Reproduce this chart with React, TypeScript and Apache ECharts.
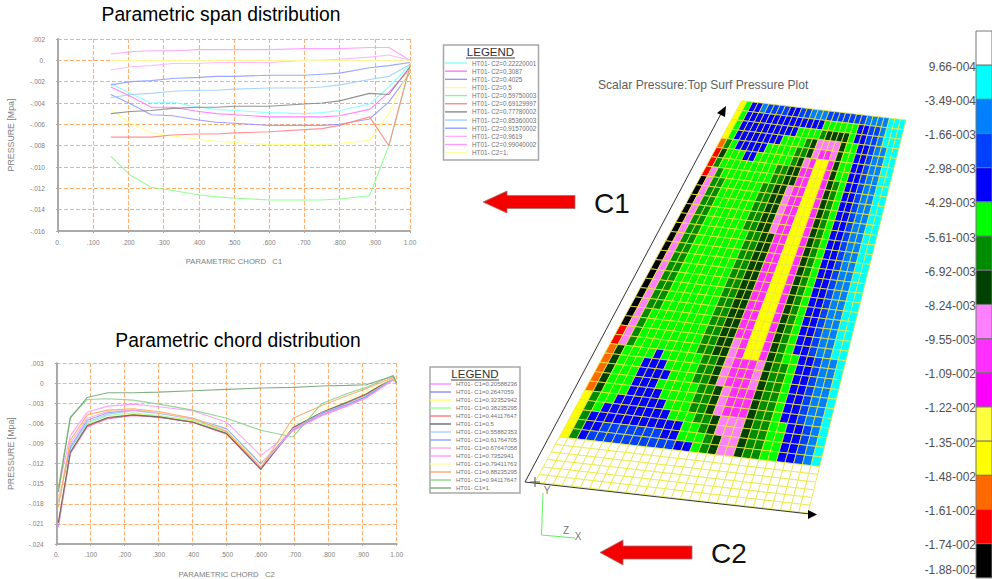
import React, { useEffect, useRef } from "react";
import * as echarts from "echarts";

const FONT = "'Liberation Sans', Arial, sans-serif";

const spanX = [0.15, 0.207, 0.265, 0.325, 0.4, 0.45, 0.5, 0.6, 0.7, 0.75, 0.8, 0.885, 0.94, 1.0];
const spanNames = ["HT01- C2=0.22220001", "HT01- C2=0.3087", "HT01- C2=0.4025", "HT01- C2=0.5", "HT01- C2=0.59750003", "HT01- C2=0.69129997", "HT01- C2=0.77780002", "HT01- C2=0.85360003", "HT01- C2=0.91570002", "HT01- C2=0.9619", "HT01- C2=0.99040002", "HT01- C2=1."];
const spanColors = ["#80ffff", "#ff70ff", "#9090ff", "#ffff80", "#80ff80", "#ff8080", "#808080", "#99ccff", "#8899ff", "#ffb0ff", "#ff99ff", "#ffffa0"];
const span1 = [-.0022, -.0031, -.0040, -.0039, -.0044, -.0046, -.0047, -.0049, -.0050, -.0049, -.0047, -.0041, -.0025, -.0004];
const span2 = [-.0025, -.0034, -.0044, -.0044, -.0048, -.0050, -.0051, -.0053, -.0053, -.0053, -.0052, -.0046, -.0030, -.0008];
const span3 = [-.0032, -.0041, -.0051, -.0052, -.0056, -.0058, -.0059, -.0061, -.0061, -.0061, -.0060, -.0055, -.0039, -.0012];
const span4 = [-.0046, -.0059, -.0068, -.0071, -.0074, -.0076, -.0077, -.0079, -.0079, -.0079, -.0078, -.0075, -.0050, -.0007];
const span5 = [-.0090, -.0108, -.0119, -.0122, -.0126, -.0128, -.0129, -.0131, -.0131, -.0131, -.0130, -.0127, -.0080, -.0007];
const span6 = [-.0072, -.0072, -.0072, -.0070, -.0069, -.0069, -.0068, -.0067, -.0065, -.0064, -.0061, -.0053, -.0080, -.0005];
const span7 = [-.0050, -.0048, -.0047, -.0045, -.0044, -.0044, -.0043, -.0043, -.0041, -.0040, -.0038, -.0031, -.0032, -.0006];
const span8 = [-.0035, -.0032, -.0031, -.0029, -.0028, -.0028, -.0027, -.0026, -.0026, -.0025, -.0023, -.0018, -.0015, -.0004];
const span9 = [-.0023, -.0020, -.0019, -.0017, -.0016, -.0015, -.0015, -.0014, -.0014, -.0013, -.0012, -.0007, -.0005, -.0002];
const span10 = [-.0009, -.0006, -.0005, -.0003, -.0003, -.0002, -.0002, -.0002, 0, 0, .0001, .0003, .0005, 0];
const span11 = [.0006, .0008, .0009, .0009, .0010, .0010, .0010, .0010, .0011, .0011, .0011, .0012, .0012, 0];
const span12 = [0, 0, 0, 0, 0, 0, 0, 0, 0, 0, 0, 0, 0, 0];
const spanValues = [span1, span2, span3, span4, span5, span6, span7, span8, span9, span10, span11, span12];

const chordX = [0.005, 0.04, 0.09, 0.15, 0.225, 0.3, 0.4, 0.5, 0.6, 0.695, 0.78, 0.855, 0.91, 0.99, 1.0];
const chordNames = ["HT01- C1=0.20588236", "HT01- C1=0.2647059", "HT01- C1=0.32352942", "HT01- C1=0.38235295", "HT01- C1=0.44117647", "HT01- C1=0.5", "HT01- C1=0.55882353", "HT01- C1=0.61764705", "HT01- C1=0.67647058", "HT01- C1=0.7352941", "HT01- C1=0.79411763", "HT01- C1=0.88235295", "HT01- C1=0.94117647", "HT01- C1=1."];
const chordColors = ["#ff80ff", "#8080ff", "#ffff50", "#90ff90", "#ff7070", "#606060", "#99ccff", "#8099ff", "#ffa0e8", "#ff90ff", "#ffffa0", "#ffa060", "#80d080", "#70a070"];
const chord1 = [-.0215, -.0105, -.0065, -.0053, -.0048, -.0051, -.0058, -.0075, -.0128, -.0068, -.0048, -.0033, -.0021, .0007, 0];
const chord2 = [-.0212, -.0104, -.0063, -.0052, -.0047, -.0050, -.0057, -.0074, -.0127, -.0069, -.0047, -.0032, -.0020, .0006, 0];
const chord3 = [-.0210, -.0103, -.0062, -.0051, -.0046, -.0049, -.0056, -.0073, -.0125, -.0067, -.0045, -.0030, -.0018, .0008, 0];
const chord4 = [-.0178, -.0098, -.0060, -.0048, -.0044, -.0048, -.0055, -.0073, -.0124, -.0068, -.0044, -.0029, -.0017, .0008, 0];
const chord5 = [-.0208, -.0103, -.0064, -.0052, -.0048, -.0050, -.0058, -.0076, -.0129, -.0067, -.0044, -.0029, -.0017, .0009, 0];
const chord6 = [-.0208, -.0103, -.0063, -.0051, -.0047, -.0050, -.0058, -.0075, -.0128, -.0066, -.0043, -.0028, -.0016, .0008, 0];
const chord7 = [-.0172, -.0098, -.0058, -.0046, -.0041, -.0045, -.0053, -.0070, -.0122, -.0069, -.0044, -.0031, -.0019, .0007, 0];
const chord8 = [-.0172, -.0095, -.0055, -.0044, -.0040, -.0044, -.0052, -.0068, -.0120, -.0070, -.0045, -.0032, -.0020, .0006, 0];
const chord9 = [-.0175, -.0090, -.0052, -.0042, -.0040, -.0044, -.0053, -.0071, -.0125, -.0068, -.0046, -.0033, -.0022, .0005, 0];
const chord10 = [-.0158, -.0078, -.0043, -.0034, -.0031, -.0035, -.0041, -.0058, -.0108, -.0071, -.0048, -.0034, -.0022, .0006, 0];
const chord11 = [-.0172, -.0085, -.0048, -.0040, -.0038, -.0043, -.0052, -.0070, -.0123, -.0060, -.0040, -.0025, -.0012, .0008, 0];
const chord12 = [-.0185, -.0085, -.0047, -.0040, -.0038, -.0042, -.0052, -.0072, -.0126, -.0052, -.0033, -.0018, -.0008, .0009, 0];
const chord13 = [-.0155, -.0050, -.0024, -.0023, -.0025, -.0031, -.0040, -.0052, -.0070, -.0080, -.0030, -.0015, -.0006, .0012, 0];
const chord14 = [-.0162, -.0052, -.0021, -.0014, -.0014, -.0013, -.0011, -.0009, -.0007, -.0006, -.0004, -.0003, -.0002, .0011, 0];
const chordValues = [chord1, chord2, chord3, chord4, chord5, chord6, chord7, chord8, chord9, chord10, chord11, chord12, chord13, chord14];

const xTickLabels = ["0.", ".100", ".200", ".300", ".400", ".500", ".600", ".700", ".800", ".900", "1.00"];
const spanYLabels = ["-.016", "-.014", "-.012", "-.010", "-.008", "-.006", "-.004", "-.002", "0.", ".002"];
const chordYLabels = ["-.024", "-.021", "-.018", "-.015", "-.012", "-.009", "-.006", "-.003", "0", ".003"];

const scaleLabels = ["9.66-004", "-3.49-004", "-1.66-003", "-2.98-003", "-4.29-003", "-5.61-003", "-6.92-003", "-8.24-003", "-9.55-003", "-1.09-002", "-1.22-002", "-1.35-002", "-1.48-002", "-1.61-002", "-1.74-002", "-1.88-002"];
const scaleKeys = "WCBANGgDPMmLYORK";

const palette: Record<string, string> = {
  W: "#ffffff", C: "#00ffff", B: "#0080ff", A: "#0040ff", N: "#0000ff", G: "#00ff00", g: "#008c00", D: "#004000",
  P: "#ff80ff", M: "#ff30ff", m: "#ff00ff", L: "#ffff40", Y: "#ffff00", O: "#ff6a00", R: "#ff0000", K: "#000000",
};

const meshRows = [
  "YGNNBAAAANNAABBBAAAAAAABBBBCCC",
  "YGNNNNNNNNNNNNNNGGGGGGNNAABCCC",
  "YGNNNNNNNNNNGGGGgDDDDGNNAABCCC",
  "YGNNNNNNNNGGGGgDPPPPDGGNNABBCC",
  "OgGNNNNNGGGGGggDPMMPDGGNNABBCC",
  "RDGGGNNGGGGGGgDPMYYMDGGNNABBCC",
  "RgGGGGGGGGGggDDMMYYMDGGNNABBCC",
  "RPgGGGGGGGGggDDMMYYMDgGNNABBCC",
  "KPggGGGGGGggDDPMMYYMDgGNNABBCC",
  "KPggGGGGGGggDDPMMYYMDgGNNABBCC",
  "KPggGGGGGGggDDPMMYYMDgGNNABBCC",
  "KPggGGGGGGggDDPMMYYMDgGNNABBCC",
  "KPggGGGGGGggDDPMMYYMDgGNNABBCC",
  "KPggGGGGGGGggDDMMYYMDgGNNABBCC",
  "KPggGGGGGGGggDDMMYYMDgGNNABBCC",
  "KPggGGGGGGGggDDMMYYMDgGNNABBCC",
  "KPggGGGGGGGggDDMMYYMDgGNNABBCC",
  "KPggGGGGGGGggDDMMYYMDgGNNABBCC",
  "KPggGGGGGGGggDDMMYYMDgGNNABBCC",
  "KPggGGGGGGGggDDMMYYMDgGNNABBCC",
  "KPggGGGGGGGggDDMMYYMDgGNNABBCC",
  "KPggGGGGGGGggDDMMYYMDgGNNABBCC",
  "KPgGGGGGGGGggDDMMYYMDgGNNABBCC",
  "KPgGGGGGGGGggDDMMYYMDgGNNABBCC",
  "RPgGGGGGGGGggDDPMYYMDgGNNABBCC",
  "RPgGGGGGGGGggDDPMYYMDgGGNNABBC",
  "ODGGGGNGGGGGggDPMMMPDggGNNABBC",
  "ODGGGNNNGGGGggDPMMMPDggGNNABBC",
  "ODGGGNNNNGGGggDPMMMPDggGNNABBC",
  "ODGGGNNNGGGGGggDPMMMDggGNNABBC",
  "ODGGGNNNNGGGGggDPMMMDggGNNABBC",
  "YgGGNNNNNNGGGggDPMMMDggGNNABBC",
  "YgGNNNNNNNNGGGggDPPPDggGGNNABC",
  "YgNNNNNNNNNNNGGgDPPPDggGGNNABC",
  "YgNNAAAAAAANNGGGgDPPDggGGNNABC",
  "YgNAAAAAAAAAANNGgDPPDggGGNNABC",
  "WWWWWWWWWWWWWWWWWWWWWWWWWWWWWW",
  "WWWWWWWWWWWWWWWWWWWWWWWWWWWWWW",
  "WWWWWWWWWWWWWWWWWWWWWWWWWWWWWW",
  "WWWWWWWWWWWWWWWWWWWWWWWWWWWWWW",
  "WWWWWWWWWWWWWWWWWWWWWWWWWWWWWW",
  "WWWWWWWWWWWWWWWWWWWWWWWWWWWWWW",
];

const plate = { tl: [741.7, 100.7], tr: [906, 120], bl: [535, 482], br: [808, 513] };

function rowFraction(r: number) {
  return r <= 36 ? (r / 36) * 0.882 : 0.882 + ((r - 36) / 6) * 0.118;
}
function platePoint(c: number, r: number) {
  const v = rowFraction(r);
  const u = c / 30;
  const lx = plate.tl[0] + (plate.bl[0] - plate.tl[0]) * v;
  const ly = plate.tl[1] + (plate.bl[1] - plate.tl[1]) * v;
  const rx = plate.tr[0] + (plate.br[0] - plate.tr[0]) * v;
  const ry = plate.tr[1] + (plate.br[1] - plate.tr[1]) * v;
  return [lx + (rx - lx) * u, ly + (ry - ly) * u];
}

const meshData: number[][] = [];
meshRows.forEach((row, r) => {
  row.split("").forEach((_, c) => meshData.push([c, r]));
});

function lineSeries(names: string[], colors: string[], values: number[][], xs: number[], axis: number) {
  return names.map((name, i) => ({
    name,
    type: "line",
    xAxisIndex: axis,
    yAxisIndex: axis,
    showSymbol: false,
    symbol: "none",
    silent: true,
    color: colors[i],
    lineStyle: { width: 1.1, color: colors[i], opacity: 0.85 },
    data: xs.map((x, k) => [x, values[i][k]]),
  }));
}

function plotAxes(gridIndex: number, xName: string, yLabels: string[], yMin: number, yMax: number, yStep: number, nameGapY: number, xMargin: number) {
  const axisLabelStyle = { color: "#808080", fontSize: 6.5, fontFamily: FONT };
  const split = { show: true, lineStyle: { color: "#ffb070", type: [4, 2] as any, width: 1.1 } };
  const line = { show: true, onZero: false, lineStyle: { color: "#aaaaaa", width: 2 } };
  const tick = { show: true, length: 2, lineStyle: { color: "#aaaaaa" } };
  return {
    x: {
      gridIndex, type: "value", min: 0, max: 1, interval: 0.1, name: xName, nameLocation: "middle", nameGap: 26,
      nameTextStyle: { color: "#808080", fontSize: 7.7, fontFamily: FONT },
      axisLine: line, axisTick: tick, splitLine: split,
      axisLabel: { ...axisLabelStyle, margin: xMargin, formatter: (v: number) => xTickLabels[Math.round(v * 10)] },
    },
    y: {
      gridIndex, type: "value", min: yMin, max: yMax, interval: yStep, name: "PRESSURE [Mpa]", nameLocation: "middle", nameGap: nameGapY,
      nameTextStyle: { color: "#808080", fontSize: 8.8, fontFamily: FONT },
      axisLine: line, axisTick: tick, splitLine: split,
      axisLabel: { ...axisLabelStyle, margin: 13, formatter: (v: number) => yLabels[Math.round((v - yMin) / yStep)] },
    },
  };
}

function legendOf(names: string[], left: number, top: number, fontSize: number, gap: number, w: number) {
  return {
    data: names, orient: "vertical", left, top, padding: 0, itemGap: gap, itemWidth: w, itemHeight: 1.3, icon: "rect",
    selectedMode: false,
    textStyle: { color: "#707070", fontSize, fontFamily: FONT, lineHeight: 8 },
  };
}

function text(t: string, x: number, y: number, fontSize: number, fill: string, align = "left", extra: any = {}) {
  return { type: "text", x, y, z: 10, silent: true, style: { text: t, fill, fontSize, fontFamily: FONT, align, verticalAlign: "middle", ...extra } };
}
function poly(points: number[][], fill: string, stroke = "none", lineWidth = 0) {
  return { type: "polygon", z: 10, silent: true, shape: { points }, style: { fill, stroke, lineWidth } };
}
function seg(x1: number, y1: number, x2: number, y2: number, stroke: string, lineWidth = 1) {
  return { type: "line", z: 10, silent: true, shape: { x1, y1, x2, y2 }, style: { stroke, lineWidth } };
}
function legendBox(x: number, y: number, w: number, h: number) {
  return { type: "rect", z: 0, silent: true, shape: { x, y, width: w, height: h }, style: { fill: "#ffffff", stroke: "#a8a8a8", lineWidth: 1.5 } };
}

export default function App() {
  const ref = useRef<HTMLDivElement>(null);
  useEffect(() => {
    const chart = echarts.init(ref.current!, undefined, { renderer: "svg" });
    const a1 = plotAxes(0, "PARAMETRIC CHORD   C1", spanYLabels, -0.016, 0.002, 0.002, 43, 8);
    const a2 = plotAxes(1, "PARAMETRIC CHORD   C2", chordYLabels, -0.024, 0.003, 0.003, 41, 7);

    const graphics = [
      legendBox(443.5, 45, 95, 115),
      legendBox(430, 367, 90, 126),
      text("Parametric span distribution", 221, 14.5, 19.3, "#000000", "center"),
      text("Parametric chord distribution", 238, 340, 19.3, "#000000", "center"),
      text("LEGEND", 490.5, 52, 11.5, "#333333", "center"),
      seg(466, 58, 515, 58, "#444444", 1),
      text("LEGEND", 475, 374, 11.5, "#333333", "center"),
      seg(451, 380, 499, 380, "#444444", 1),
      text("Scalar Pressure:Top Surf Pressure Plot", 598, 84.5, 12.1, "#606060"),
      text("C1", 594, 203, 28, "#111111"),
      text("C2", 711, 553, 28, "#111111"),
      poly([[483, 202], [507, 191], [507, 195.5], [575, 195.5], [575, 208.5], [507, 208.5], [507, 213]], "#f40000", "#a07070", 0.8),
      poly([[600, 552.5], [623, 540], [623, 546], [692, 546], [692, 559], [623, 559], [623, 565]], "#f40000", "#a07070", 0.8),
      seg(525, 482, 723, 110, "#333333", 1),
      poly([[726, 106], [725, 117], [717, 113]], "#000000"),
      seg(525, 482, 810, 514, "#333333", 1),
      poly([[817, 514.5], [808, 519], [808, 510]], "#000000"),
      seg(530, 482, 540, 482, "#555555", 1),
      seg(535, 477, 535, 487, "#555555", 1),
      { type: "polyline", z: 10, silent: true, shape: { points: [[543, 493], [541.5, 535], [575, 538]] }, style: { stroke: "#66ee66", lineWidth: 1, fill: "none" } },
      text("Y", 547, 490, 10, "#777777", "center"),
      text("Z", 566, 530, 10, "#777777", "center"),
      text("X", 578, 536, 10, "#777777", "center"),
    ];

    const scaleTop = 31;
    const scaleStep = 34.18;

    const option: any = {
      animation: false,
      backgroundColor: "#ffffff",
      textStyle: { fontFamily: FONT },
      grid: [
        { left: 58, top: 39, width: 352, height: 192 },
        { left: 56.7, top: 363.3, width: 340, height: 185.7 },
        { left: 0, top: 0, width: 992, height: 579 },
      ],
      xAxis: [a1.x, a2.x, { gridIndex: 2, type: "value", min: 0, max: 992, show: false }],
      yAxis: [a1.y, a2.y, { gridIndex: 2, type: "value", min: 0, max: 579, inverse: true, show: false }],
      legend: [
        legendOf(spanNames, 445, 59, 6.3, 0.15, 22),
        legendOf(chordNames, 430, 380, 6.0, 0, 21),
      ],
      graphic: { elements: graphics },
      series: [
        ...lineSeries(spanNames, spanColors, spanValues, spanX, 0),
        ...lineSeries(chordNames, chordColors, chordValues, chordX, 1),
        {
          type: "custom",
          name: "mesh",
          xAxisIndex: 2,
          yAxisIndex: 2,
          silent: true,
          clip: false,
          data: meshData,
          renderItem: (_: any, api: any) => {
            const c = api.value(0);
            const r = api.value(1);
            const pts = [platePoint(c, r), platePoint(c + 1, r), platePoint(c + 1, r + 1), platePoint(c, r + 1)].map((p) => api.coord(p));
            return {
              type: "polygon",
              shape: { points: pts },
              style: { fill: palette[meshRows[r][c]], stroke: "#e8e840", lineWidth: 0.8 },
            };
          },
        },
        {
          type: "custom",
          name: "scale",
          xAxisIndex: 2,
          yAxisIndex: 2,
          silent: true,
          clip: false,
          data: scaleKeys.split("").map((_, i) => [i]),
          renderItem: (_: any, api: any) => {
            const i = api.value(0);
            const p = api.coord([976, scaleTop + i * scaleStep]);
            const q = api.coord([992, scaleTop + (i + 1) * scaleStep]);
            const labelY = i < 15 ? q[1] + 1.5 : q[1] - 8;
            return {
              type: "group",
              children: [
                { type: "rect", shape: { x: p[0], y: p[1], width: q[0] - p[0], height: q[1] - p[1] }, style: { fill: palette[scaleKeys[i]], stroke: "#777777", lineWidth: 1 } },
                { type: "text", style: { text: scaleLabels[i], x: p[0], y: labelY, fill: "#505050", fontSize: 12, fontFamily: FONT, align: "right", verticalAlign: "middle" } },
              ],
            };
          },
        },
      ],
    };
    chart.setOption(option);
    return () => chart.dispose();
  }, []);
  return <div ref={ref} style={{ position: "fixed", left: 0, top: 0, width: 992, height: 579 }} />;
}
